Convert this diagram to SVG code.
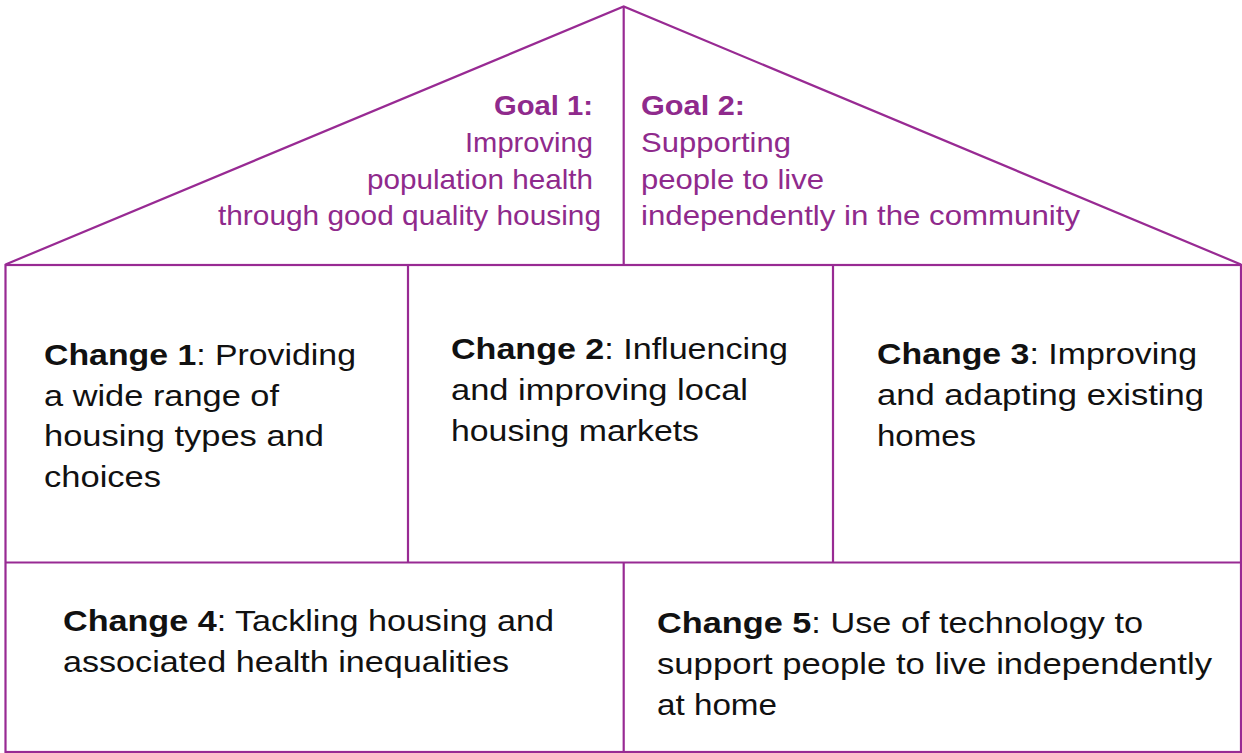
<svg xmlns="http://www.w3.org/2000/svg" width="1242" height="753" viewBox="0 0 1242 753">
  <style>
    .frame { fill: none; stroke: #982a93; stroke-width: 2.2; stroke-linejoin: miter; }
    .goal { font-family: "Liberation Sans", Arial, sans-serif; font-size: 28px; fill: #8f2a8c; }
    .chg { font-family: "Liberation Sans", Arial, sans-serif; font-size: 30px; fill: #111111; }
    .hd { font-weight: bold; }
  </style>
  <rect width="1242" height="753" fill="#ffffff"/>

  <!-- house outline: roof, walls and internal dividers -->
  <g id="connectors">
    <path class="frame" d="M5.5 264.5 L623.7 6.5 L1241 264.5"/>
    <line class="frame" x1="623.7" y1="6.5" x2="623.7" y2="265"/>
    <rect class="frame" x="5.5" y="265" width="1235.5" height="487"/>
    <line class="frame" x1="5.5" y1="562.5" x2="1241" y2="562.5"/>
    <line class="frame" x1="408" y1="265" x2="408" y2="562.5"/>
    <line class="frame" x1="833" y1="265" x2="833" y2="562.5"/>
    <line class="frame" x1="623.7" y1="562.5" x2="623.7" y2="752"/>
  </g>

  <g id="goal1">
    <text class="goal hd" x="494" y="115" textLength="99" lengthAdjust="spacingAndGlyphs">Goal 1:</text>
    <text class="goal" x="465" y="152" textLength="128" lengthAdjust="spacingAndGlyphs">Improving</text>
    <text class="goal" x="367" y="189" textLength="226" lengthAdjust="spacingAndGlyphs">population health</text>
    <text class="goal" x="218" y="225" textLength="383" lengthAdjust="spacingAndGlyphs">through good quality housing</text>
  </g>

  <g id="goal2">
    <text class="goal hd" x="641" y="115" textLength="104" lengthAdjust="spacingAndGlyphs">Goal 2:</text>
    <text class="goal" x="641" y="152" textLength="150" lengthAdjust="spacingAndGlyphs">Supporting</text>
    <text class="goal" x="641" y="189" textLength="183" lengthAdjust="spacingAndGlyphs">people to live</text>
    <text class="goal" x="641" y="225" textLength="439" lengthAdjust="spacingAndGlyphs">independently in the community</text>
  </g>

  <g id="change1">
    <text class="chg" x="44" y="365" textLength="312" lengthAdjust="spacingAndGlyphs"><tspan class="hd">Change 1</tspan>: Providing</text>
    <text class="chg" x="44" y="406" textLength="235" lengthAdjust="spacingAndGlyphs">a wide range of</text>
    <text class="chg" x="44" y="446" textLength="280" lengthAdjust="spacingAndGlyphs">housing types and</text>
    <text class="chg" x="44" y="487" textLength="117" lengthAdjust="spacingAndGlyphs">choices</text>
  </g>

  <g id="change2">
    <text class="chg" x="451" y="359" textLength="337" lengthAdjust="spacingAndGlyphs"><tspan class="hd">Change 2</tspan>: Influencing</text>
    <text class="chg" x="451" y="400" textLength="297" lengthAdjust="spacingAndGlyphs">and improving local</text>
    <text class="chg" x="451" y="441" textLength="248" lengthAdjust="spacingAndGlyphs">housing markets</text>
  </g>

  <g id="change3">
    <text class="chg" x="877" y="364" textLength="320" lengthAdjust="spacingAndGlyphs"><tspan class="hd">Change 3</tspan>: Improving</text>
    <text class="chg" x="877" y="405" textLength="327" lengthAdjust="spacingAndGlyphs">and adapting existing</text>
    <text class="chg" x="877" y="446" textLength="99" lengthAdjust="spacingAndGlyphs">homes</text>
  </g>

  <g id="change4">
    <text class="chg" x="63" y="631" textLength="491" lengthAdjust="spacingAndGlyphs"><tspan class="hd">Change 4</tspan>: Tackling housing and</text>
    <text class="chg" x="63" y="672" textLength="446" lengthAdjust="spacingAndGlyphs">associated health inequalities</text>
  </g>

  <g id="change5">
    <text class="chg" x="657" y="633" textLength="486" lengthAdjust="spacingAndGlyphs"><tspan class="hd">Change 5</tspan>: Use of technology to</text>
    <text class="chg" x="657" y="674" textLength="555" lengthAdjust="spacingAndGlyphs">support people to live independently</text>
    <text class="chg" x="657" y="715" textLength="120" lengthAdjust="spacingAndGlyphs">at home</text>
  </g>
</svg>
